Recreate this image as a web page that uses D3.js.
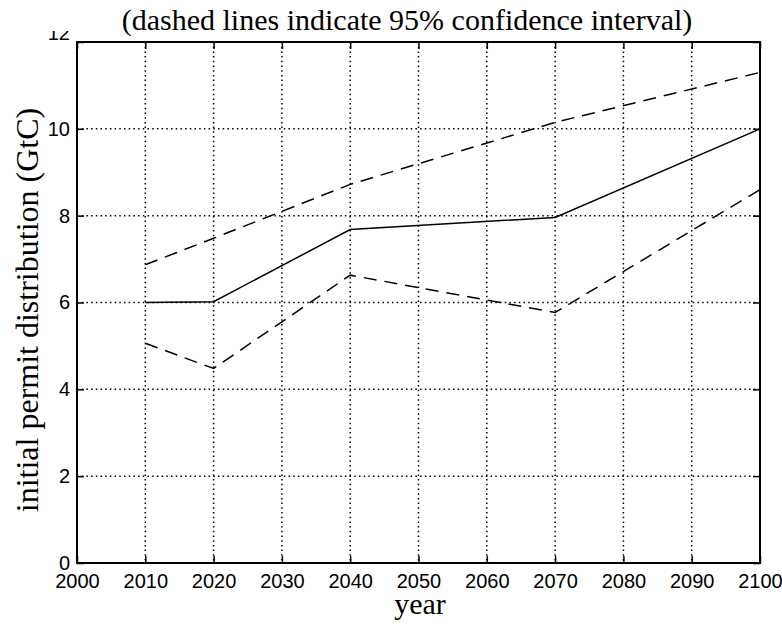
<!DOCTYPE html>
<html>
<head>
<meta charset="utf-8">
<script src="https://cdn.jsdelivr.net/npm/d3@7"></script>
<style>
  html, body { margin: 0; padding: 0; background: #fff; }
  svg { display: block; }
</style>
</head>
<body>
<svg id="chart" width="782" height="624"></svg>
<script>
// Initial permit distribution over time, with 95% confidence bounds
const years = [2010, 2020, 2040, 2070, 2100];
const meanValues = [6.0, 6.02, 7.68, 7.96, 10.0];
const upperValues = [6.87, 7.48, 8.72, 10.15, 11.3];
const lowerValues = [5.06, 4.48, 6.63, 5.77, 8.6];
const xTicks = [2000, 2010, 2020, 2030, 2040, 2050, 2060, 2070, 2080, 2090, 2100];
const yTicks = [0, 2, 4, 6, 8, 10, 12];

const svg = d3.select("#chart");
const plotLeft = 77, plotRight = 760, plotTop = 42, plotBottom = 563;

const x = d3.scaleLinear().domain([2000, 2100]).range([plotLeft, plotRight]);
const y = d3.scaleLinear().domain([0, 12]).range([plotBottom, plotTop]);

const serif = "'Liberation Serif', 'Times New Roman', serif";
const sans = "'Liberation Sans', Arial, sans-serif";

// dotted grid
const grid = svg.append("g");
grid.selectAll("line.gx")
  .data(xTicks.filter(t => t > 2000 && t < 2100))
  .join("line")
  .attr("x1", d => x(d)).attr("x2", d => x(d))
  .attr("y1", plotTop).attr("y2", plotBottom)
  .attr("stroke", "#000").attr("stroke-width", 1.5)
  .attr("stroke-dasharray", "1.5,3.2");
grid.selectAll("line.gy")
  .data(yTicks.filter(t => t > 0 && t < 12))
  .join("line")
  .attr("x1", plotLeft).attr("x2", plotRight)
  .attr("y1", d => y(d)).attr("y2", d => y(d))
  .attr("stroke", "#000").attr("stroke-width", 1.5)
  .attr("stroke-dasharray", "1.5,3.2");

// series lines
const line = d3.line().x(d => x(d[0])).y(d => y(d[1]));
const series = [
  { values: meanValues, dash: null },
  { values: upperValues, dash: "13,8" },
  { values: lowerValues, dash: "13,8" }
];
svg.append("g").selectAll("path")
  .data(series)
  .join("path")
  .attr("d", s => line(years.map((yr, i) => [yr, s.values[i]])))
  .attr("fill", "none")
  .attr("stroke", "#000")
  .attr("stroke-width", 1.5)
  .attr("stroke-dasharray", s => s.dash);

// axes with inward ticks on all four sides
const tick = 7;
const gx = svg.append("g").attr("transform", `translate(0,${plotBottom})`)
  .call(d3.axisBottom(x).tickValues(xTicks).tickFormat(d3.format("d")).tickSize(-tick).tickPadding(11));
const gy = svg.append("g").attr("transform", `translate(${plotLeft},0)`)
  .call(d3.axisLeft(y).tickValues(yTicks).tickFormat(d3.format("d")).tickSize(-tick).tickPadding(7));
const gxt = svg.append("g").attr("transform", `translate(0,${plotTop})`)
  .call(d3.axisTop(x).tickValues(xTicks).tickFormat("").tickSize(-tick));
const gyr = svg.append("g").attr("transform", `translate(${plotRight},0)`)
  .call(d3.axisRight(y).tickValues(yTicks).tickFormat("").tickSize(-tick));

[gx, gy, gxt, gyr].forEach(g => {
  g.select(".domain").remove();
  g.selectAll(".tick line").attr("stroke", "#000").attr("stroke-width", 1.5);
  g.selectAll("text").attr("fill", "#000")
    .style("font-family", sans).style("font-size", "20px");
});

// the top y label sits higher, tucked under the title band
gy.selectAll(".tick text").filter(d => d === 12).attr("dy", "-0.15em");

// frame
svg.append("rect")
  .attr("x", plotLeft).attr("y", plotTop)
  .attr("width", plotRight - plotLeft).attr("height", plotBottom - plotTop)
  .attr("fill", "none").attr("stroke", "#000").attr("stroke-width", 2);

// title band
svg.append("rect").attr("x", 0).attr("y", 0).attr("width", 782).attr("height", 31).attr("fill", "#fff");
svg.append("text")
  .attr("x", 407).attr("y", 30)
  .attr("text-anchor", "middle")
  .style("font-family", serif).style("font-size", "30px")
  .text("(dashed lines indicate 95% confidence interval)");

// axis titles
svg.append("text")
  .attr("x", 420).attr("y", 614)
  .attr("text-anchor", "middle")
  .style("font-family", serif).style("font-size", "30px")
  .text("year");
svg.append("text")
  .attr("transform", "translate(38,310) rotate(-90)")
  .attr("text-anchor", "middle")
  .style("font-family", serif).style("font-size", "32px")
  .text("initial permit distribution (GtC)");
</script>
</body>
</html>
